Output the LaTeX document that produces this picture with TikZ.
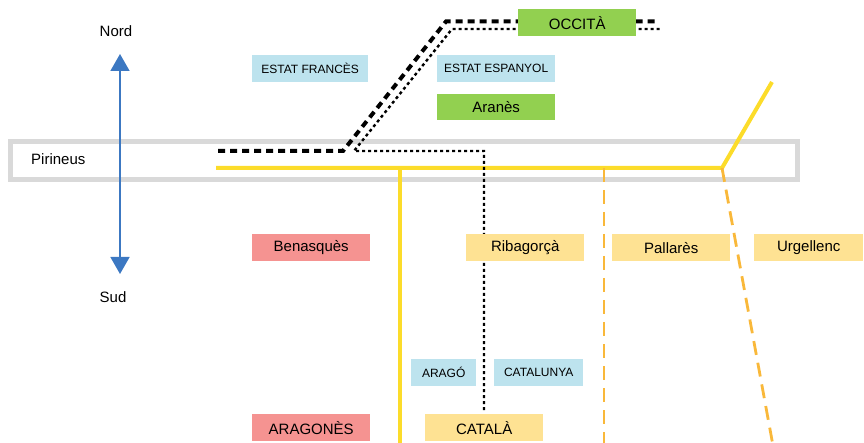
\documentclass[tikz,border=0pt]{standalone}
\usepackage{fontspec}
\setmainfont{Liberation Sans}
\usetikzlibrary{arrows.meta}
\definecolor{cgreen}{HTML}{92D050}
\definecolor{cblue}{HTML}{BDE3EE}
\definecolor{cpink}{HTML}{F59391}
\definecolor{cyel}{HTML}{FEE293}
\definecolor{lyel}{HTML}{FCDC2A}
\definecolor{lorange}{HTML}{F9B83A}
\definecolor{cgray}{HTML}{D9D9D9}
\definecolor{carrow}{HTML}{3C78C2}
\tikzset{
  lbox/.style={inner sep=0pt, anchor=north west, font=\fontsize{15}{17}\selectfont},
  sbox/.style={inner sep=0pt, anchor=north west, font=\fontsize{12}{14}\selectfont},
  plain/.style={inner sep=0pt, font=\fontsize{15}{17}\selectfont},
  yline/.style={draw=lyel, line width=4pt},
  oline/.style={draw=lorange, line width=2.8pt, dash pattern=on 14pt off 8pt},
  thickdash/.style={draw=black, line width=4pt, dash pattern=on 7pt off 5pt},
  thindot/.style={draw=black, line width=2.4pt, dash pattern=on 3pt off 3pt},
}
\begin{document}
\begin{tikzpicture}[x=1pt,y=-1pt]
\useasboundingbox (0,0) rectangle (864,443);
% Pyrenees band
\draw[cgray, line width=5pt] (10,141.5) rectangle (797,179.5);
\node[plain, anchor=west] (pir) at (31,159) {Pirineus};
% North-south arrow
\node[plain] (nord) at (116,31) {Nord};
\node[plain] (sud) at (113,297) {Sud};
\coordinate (an) at (120,54);
\coordinate (as) at (120,274);
\draw[carrow, line width=1.5pt, {Triangle[length=17pt,width=19pt]}-{Triangle[length=17pt,width=19pt]}] (an) -- (as);
% coordinates of lines
\coordinate (y0) at (216,168);
\coordinate (yk) at (722,168);
\coordinate (ytop) at (772,82);
\coordinate (yv1) at (400,168);
\coordinate (yv2) at (400,443);
\coordinate (o1a) at (604,168);
\coordinate (o1b) at (604,443);
\coordinate (o2b) at (772.5,443);
\draw[yline] (y0) -- (yk) -- (ytop);
\draw[yline] (yv1) -- (yv2);
\draw[oline] (o1a) -- (o1b);
\draw[oline] (yk) -- (o2b);
% black lines
\coordinate (t1) at (218,151);
\coordinate (t2) at (343,151);
\coordinate (t3) at (446,21.5);
\coordinate (t4) at (656,21.5);
\draw[thickdash] (t1) -- (t2) -- (t3) -- (t4);
\coordinate (d0) at (484,410);
\coordinate (d1) at (484,151);
\coordinate (d2) at (354,151);
\coordinate (d3) at (452,29);
\coordinate (d4) at (660,29);
\draw[thindot] (d0) -- (d1) -- (d2) -- (d3) -- (d4);
% boxes
\node[lbox, fill=cgreen, minimum width=118pt, minimum height=27pt] (occ) at (518,9) {OCCITÀ};
\node[sbox, fill=cblue, minimum width=116pt, minimum height=27pt] (fr) at (252,55) {ESTAT FRANCÈS};
\node[sbox, fill=cblue, minimum width=118pt, minimum height=27pt] (es) at (437,55) {ESTAT ESPANYOL};
\node[lbox, fill=cgreen, minimum width=118pt, minimum height=26pt] (ara) at (437,94) {Aranès};
\node[lbox, fill=cpink, minimum width=118pt, minimum height=27pt] (ben) at (252,234) {Benasquès};
\node[lbox, fill=cyel, minimum width=118pt, minimum height=27pt] (rib) at (466,234) {Ribagorçà};
\node[lbox, fill=cyel, minimum width=118pt, minimum height=27pt] (pal) at (612,234) {Pallarès};
\node[lbox, fill=cyel, minimum width=109pt, minimum height=27pt] (urg) at (754,234) {Urgellenc};
\node[sbox, fill=cblue, minimum width=65pt, minimum height=27pt] (arago) at (411,359) {ARAGÓ};
\node[sbox, fill=cblue, minimum width=89pt, minimum height=27pt] (cat) at (494,359) {CATALUNYA};
\node[lbox, fill=cpink, minimum width=118pt, minimum height=27pt] (arag) at (252,414) {ARAGONÈS};
\node[lbox, fill=cyel, minimum width=118pt, minimum height=27pt] (catala) at (425,414) {CATALÀ};
\end{tikzpicture}
\end{document}
